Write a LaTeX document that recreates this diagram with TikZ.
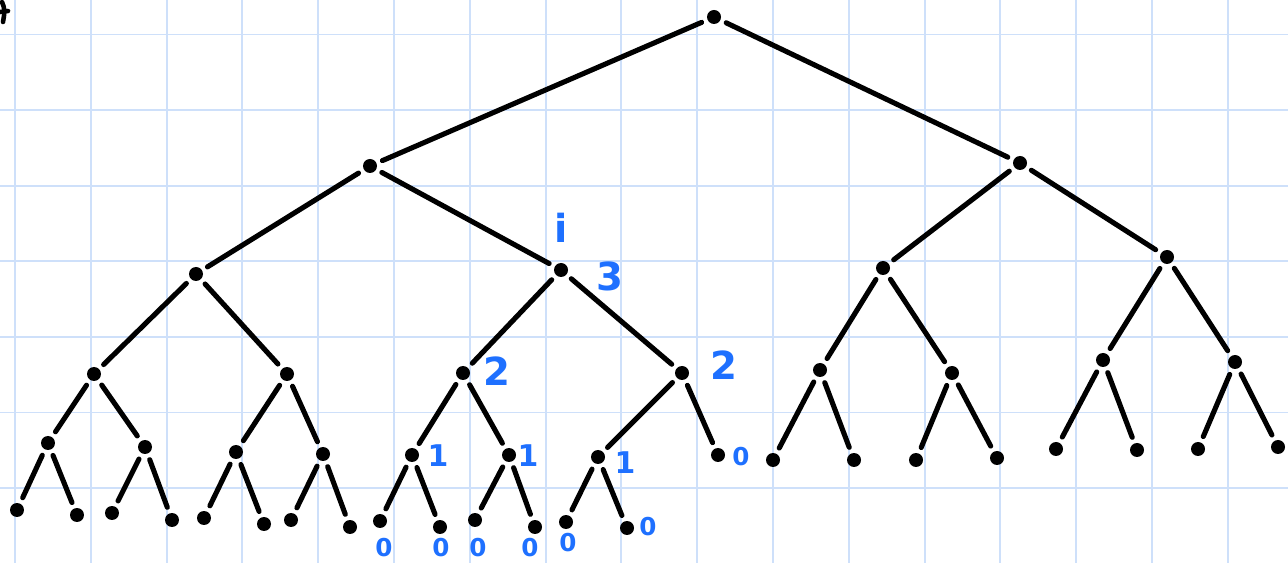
\documentclass[tikz,border=0pt]{standalone}
\usepackage{fontspec}
\setmainfont{DejaVu Sans}
\definecolor{gridblue}{RGB}{206,224,250}
\definecolor{penblue}{RGB}{30,112,255}
\begin{document}
\begin{tikzpicture}[x=0.02cm,y=-0.02cm,
  dot/.style={circle,fill=black,inner sep=0pt,minimum size=0.28cm,outer sep=0.13cm},
  edge/.style={line width=2.9pt,line cap=round},
  gridline/.style={gridblue,line width=1.1pt},
  lab/.style={text=penblue,inner sep=0pt,font=\fontsize{22}{22}\selectfont\bfseries},
  labs/.style={text=penblue,inner sep=0pt,font=\fontsize{17}{17}\selectfont\bfseries},
  labz/.style={text=penblue,inner sep=0pt,font=\fontsize{14}{14}\selectfont\bfseries}]
\useasboundingbox (0,0) rectangle (1288,563);
\fill[white] (0,0) rectangle (1288,563);
% grid
\foreach \k in {0,...,16} {\draw[gridline] ({15+75.8*\k},0) -- ({15+75.8*\k},563);}
\foreach \k in {0,...,6} {\draw[gridline] (0,{34.5+75.6*\k}) -- (1288,{34.5+75.6*\k});}
% corner fragment
\draw[line width=2.6pt,line cap=round] (2,2) .. controls (5,10) .. (3,22);
\draw[line width=2.6pt,line cap=round] (0,12) -- (8,11);
% nodes
\node[dot] (r) at (714,17) {};
\node[dot] (a) at (370,166) {};
\node[dot] (b) at (1020,163) {};
\node[dot] (aa) at (196,274) {};
\node[dot] (ab) at (561,270) {};
\node[dot] (ba) at (883,268) {};
\node[dot] (bb) at (1167,257) {};
\node[dot] (aaa) at (94,374) {};
\node[dot] (aab) at (287,374) {};
\node[dot] (aba) at (463,373) {};
\node[dot] (abb) at (682,373) {};
\node[dot] (baa) at (820,370) {};
\node[dot] (bab) at (952,373) {};
\node[dot] (bba) at (1103,360) {};
\node[dot] (bbb) at (1235,362) {};
\node[dot] (aaaa) at (48,443) {};
\node[dot] (aaab) at (145,447) {};
\node[dot] (aaba) at (236,452) {};
\node[dot] (aabb) at (323,454) {};
\node[dot] (abaa) at (412,455) {};
\node[dot] (abab) at (509,455) {};
\node[dot] (abba) at (598,457) {};
\node[dot] (abbb) at (718,455) {};
\node[dot] (baaa) at (773,460) {};
\node[dot] (baab) at (854,460) {};
\node[dot] (baba) at (916,460) {};
\node[dot] (babb) at (997,458) {};
\node[dot] (bbaa) at (1056,449) {};
\node[dot] (bbab) at (1137,450) {};
\node[dot] (bbba) at (1198,449) {};
\node[dot] (bbbb) at (1278,447) {};
\node[dot] (l1) at (17,510) {};
\node[dot] (l2) at (77,515) {};
\node[dot] (l3) at (112,513) {};
\node[dot] (l4) at (172,520) {};
\node[dot] (l5) at (204,518) {};
\node[dot] (l6) at (264,524) {};
\node[dot] (l7) at (291,520) {};
\node[dot] (l8) at (350,527) {};
\node[dot] (l9) at (380,521) {};
\node[dot] (l10) at (440,527) {};
\node[dot] (l11) at (475,520) {};
\node[dot] (l12) at (535,527) {};
\node[dot] (l13) at (566,522) {};
\node[dot] (l14) at (627,528) {};
% edges
\foreach \p/\c in {r/a,r/b,a/aa,a/ab,b/ba,b/bb,
  aa/aaa,aa/aab,ab/aba,ab/abb,ba/baa,ba/bab,bb/bba,bb/bbb,
  aaa/aaaa,aaa/aaab,aab/aaba,aab/aabb,aba/abaa,aba/abab,abb/abba,abb/abbb,
  baa/baaa,baa/baab,bab/baba,bab/babb,bba/bbaa,bba/bbab,bbb/bbba,bbb/bbbb,
  aaaa/l1,aaaa/l2,aaab/l3,aaab/l4,aaba/l5,aaba/l6,aabb/l7,aabb/l8,
  abaa/l9,abaa/l10,abab/l11,abab/l12,abba/l13,abba/l14}
  {\draw[edge] (\p) -- (\c);}
% blue labels
\node[lab] (li) at (561,228) {i};
\node[lab] (l3lab) at (610,276) {3};
\node[lab] (l2a) at (497,371) {2};
\node[lab] (l2b) at (724,365) {2};
\node[labs] (l1a) at (438,456) {1};
\node[labs] (l1b) at (528,456) {1};
\node[labs] (l1c) at (625,463) {1};
\node[labz] (z0) at (741,457) {0};
\node[labz] (z1) at (384,548) {0};
\node[labz] (z2) at (441,548) {0};
\node[labz] (z3) at (478,548) {0};
\node[labz] (z4) at (530,548) {0};
\node[labz] (z5) at (568,543) {0};
\node[labz] (z6) at (648,527) {0};
\end{tikzpicture}
\end{document}
